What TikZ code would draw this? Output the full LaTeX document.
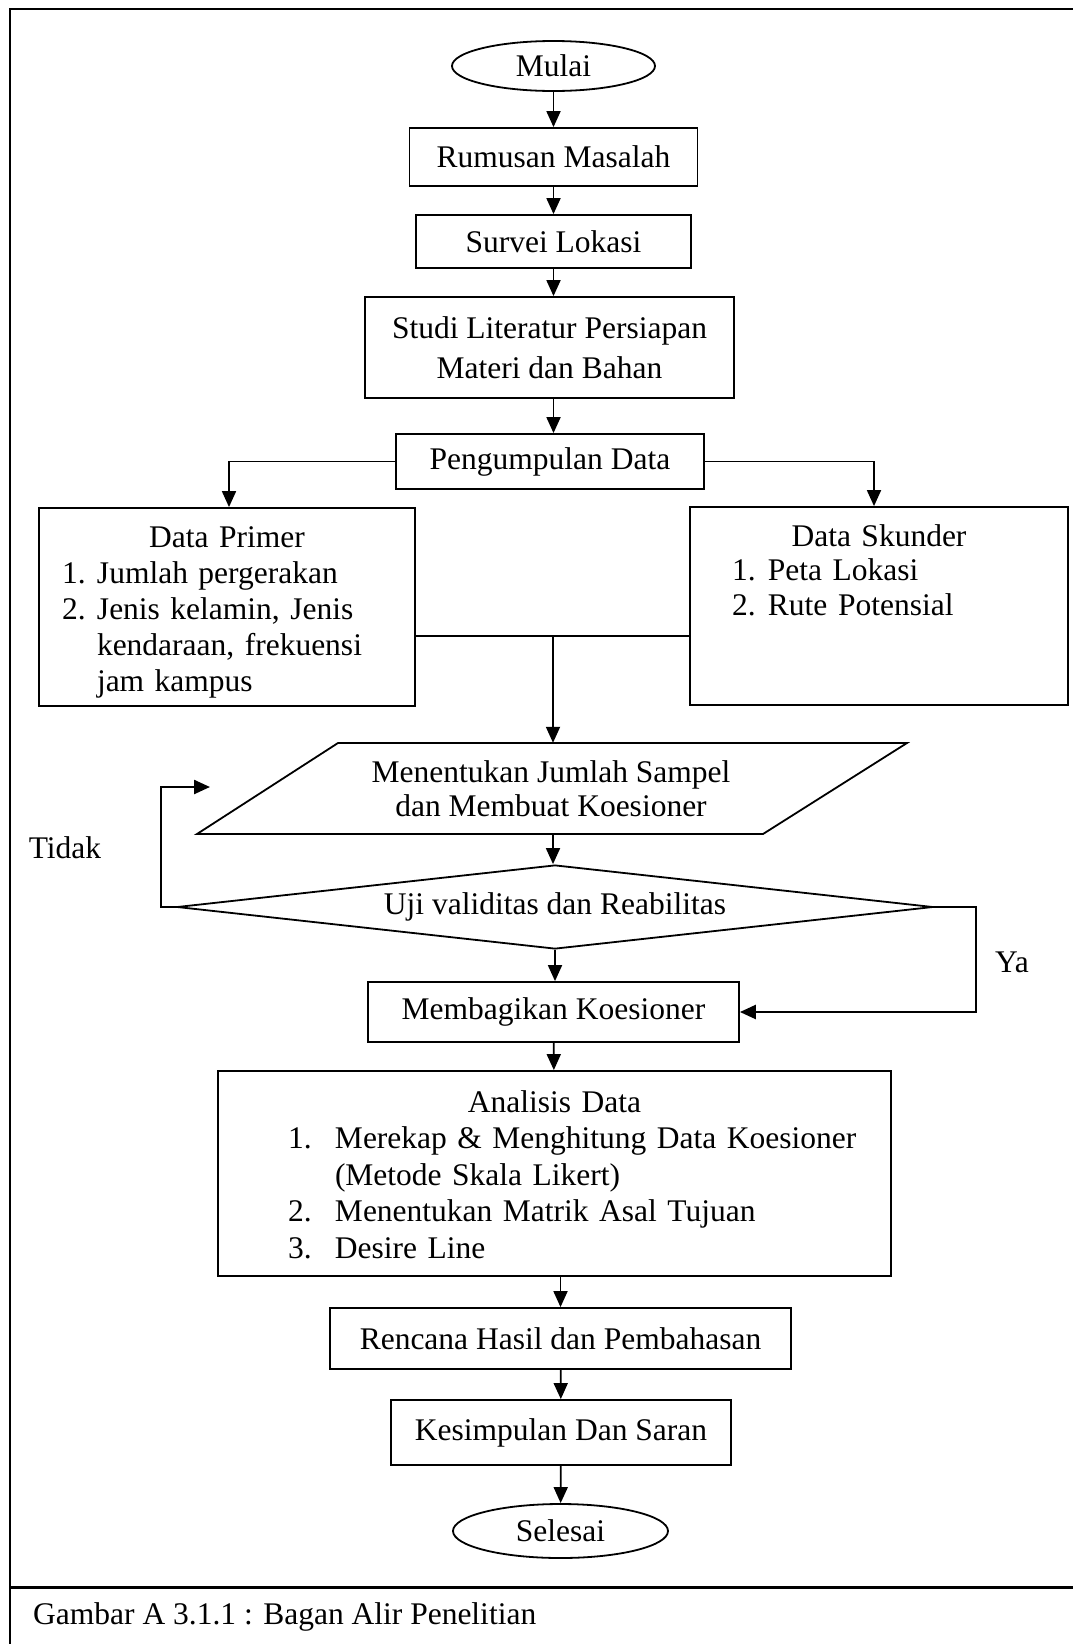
\documentclass[tikz,border=0pt]{standalone}
\usepackage{fontspec}
\setmainfont{Liberation Serif}
\usetikzlibrary{shapes.geometric}
\usetikzlibrary{arrows.meta}

\begin{document}
\begin{tikzpicture}[x=1pt,y=-1pt,
	every node/.style={font=\fontsize{31.5}{34.5}\selectfont, inner sep=0pt},
	box/.style={draw, rectangle, line width=1.8pt},
	oval/.style={draw, ellipse, line width=1.8pt},
	flow/.style={line width=1.8pt, -{Triangle[length=16pt,width=14pt]}},
	loop/.style={line width=1.8pt}]
	\useasboundingbox (0,0) rectangle (1073,1644);
	\draw[line width=2.8pt] (10,1644) -- (10,9) -- (1073,9);
	\draw[line width=3pt] (10,1587) -- (1073,1587);
	\node[anchor=west] (caption) at (33,1617) {Gambar A 3.1.1 : Bagan Alir Penelitian};

	\node[oval, minimum width=203pt, minimum height=50pt] (mulai) at (553.5,66) {Mulai};
	\node[box, minimum width=288pt, minimum height=58pt] (rumusan) at (553.5,157) {Rumusan Masalah};
	\node[box, minimum width=275pt, minimum height=53pt] (survei) at (553.5,241.5) {Survei Lokasi};
	\node[box, minimum width=369pt, minimum height=101pt, align=center, font=\fontsize{31.5}{40}\selectfont] (studi) at (549.5,347.5) {Studi Literatur Persiapan\\Materi dan Bahan};
	\node[box, minimum width=308pt, minimum height=55pt] (kumpul) at (550,461.5) {Pengumpulan Data};

	\node[box, minimum width=376pt, minimum height=198pt] (primer) at (227,607) {};
	\node[anchor=north, text width=376pt, align=left, font=\fontsize{31.5}{36}\selectfont] (primerisi) at ([yshift=-19pt]primer.north) {\makebox[376pt]{Data Primer}\\
		\hspace*{23pt}\makebox[35pt][l]{1.}Jumlah pergerakan\\
		\hspace*{23pt}\makebox[35pt][l]{2.}Jenis kelamin, Jenis\\
		\hspace*{58pt}kendaraan, frekuensi\\
		\hspace*{58pt}jam kampus};
	\node[box, minimum width=378pt, minimum height=198pt] (skunder) at (879,606) {};
	\node[anchor=north, text width=378pt, align=left] (skunderisi) at ([yshift=-18pt]skunder.north) {\makebox[378pt]{Data Skunder}\\
		\hspace*{42pt}\makebox[36pt][l]{1.}Peta Lokasi\\
		\hspace*{42pt}\makebox[36pt][l]{2.}Rute Potensial};

	\draw[loop] (338,743) -- (907,743) -- (763,834) -- (197,834) -- cycle;
	\node[align=center, minimum width=500pt, minimum height=91pt] (sampel) at (551,788.5) {Menentukan Jumlah Sampel\\dan Membuat Koesioner};
	\node[draw, diamond, aspect=9, line width=1.8pt, minimum width=756pt, minimum height=84pt] (uji) at (555,907) {Uji validitas dan Reabilitas};
	\node[box, minimum width=371pt, minimum height=60pt] (bagi) at (553.5,1012) {Membagikan Koesioner};
	\node (tidak) at (65,848) {Tidak};
	\node (ya) at (1012,962) {Ya};

	\node[box, minimum width=673pt, minimum height=205pt] (analisis) at (554.5,1173.5) {};
	\node[anchor=north, text width=673pt, align=left, font=\fontsize{31.5}{36.5}\selectfont] (analisisisi) at ([yshift=-20pt]analisis.north) {\makebox[673pt]{Analisis Data}\\
		\hspace*{70pt}\makebox[47pt][l]{1.}Merekap \& Menghitung Data Koesioner\\
		\hspace*{117pt}(Metode Skala Likert)\\
		\hspace*{70pt}\makebox[47pt][l]{2.}Menentukan Matrik Asal Tujuan\\
		\hspace*{70pt}\makebox[47pt][l]{3.}Desire Line};
	\node[box, minimum width=461pt, minimum height=61pt] (rencana) at (560.5,1338.5) {Rencana Hasil dan Pembahasan};
	\node[box, minimum width=340pt, minimum height=65pt] (kesimpulan) at (561,1432.5) {Kesimpulan Dan Saran};
	\node[oval, minimum width=215pt, minimum height=54pt] (selesai) at (560.5,1531) {Selesai};

	\coordinate (gabung) at (553,636);
	\coordinate (ulang) at (210,787);
	\draw[flow] (mulai) -- (rumusan);
	\draw[flow] (rumusan) -- (survei);
	\draw[flow] (survei) -- (studi.north -| survei);
	\draw[flow] (studi.south -| survei) -- (kumpul.north -| survei);
	\draw[flow] (kumpul.west) -| ([xshift=2pt]primer.north);
	\draw[flow] (kumpul.east) -| ([xshift=-5pt]skunder.north);
	\draw[loop] (gabung -| primer.east) -- (gabung) -- (gabung -| skunder.west);
	\draw[flow] (gabung) -- (gabung |- sampel.north);
	\draw[flow] (gabung |- sampel.south) -- (gabung |- uji.north);
	\draw[flow] (uji.south) -- (uji.south |- bagi.north);
	\draw[flow, line width=2.4pt] (uji.west) -- ++(-15,0) |- (ulang);
	\draw[flow, line width=2.4pt] (uji.east) -- ++(42,0) |- (bagi.east);
	\draw[flow] (bagi) -- (analisis);
	\draw[flow] (analisis.south -| rencana) -- (rencana.north);
	\draw[flow] (rencana) -- (kesimpulan);
	\draw[flow] (kesimpulan) -- (selesai);
\end{tikzpicture}
\end{document}
